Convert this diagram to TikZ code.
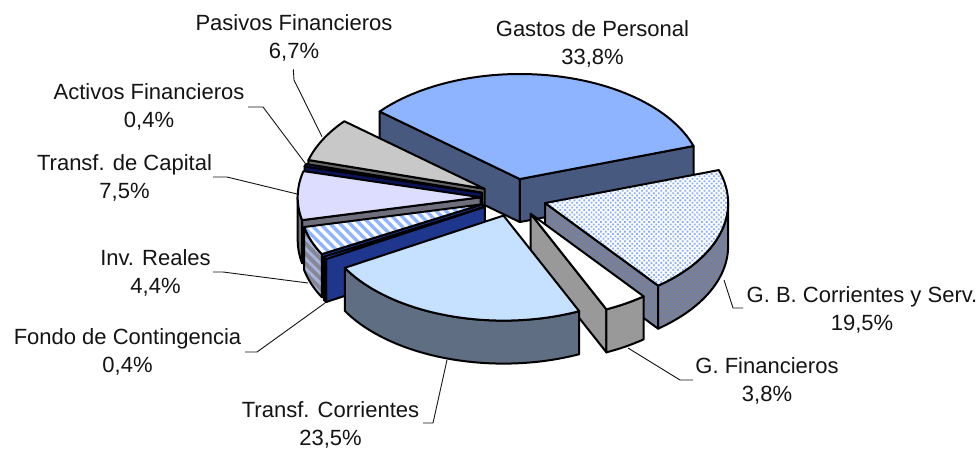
\documentclass[tikz,border=0pt]{standalone}
\usepackage{fontspec}
\setmainfont{Liberation Sans}
\usetikzlibrary{patterns,patterns.meta}

\definecolor{gpTop}{RGB}{143,180,255}
\definecolor{gpSide}{RGB}{72,89,128}
\definecolor{gbBase}{RGB}{250,252,255}
\definecolor{gbPat}{RGB}{140,175,245}
\definecolor{gbSide}{RGB}{125,128,140}
\definecolor{gbSidePat}{RGB}{105,130,195}
\definecolor{gfSide}{RGB}{153,153,153}
\definecolor{tcTop}{RGB}{197,225,255}
\definecolor{tcSide}{RGB}{95,110,130}
\definecolor{fcTop}{RGB}{40,80,220}
\definecolor{fcSide}{RGB}{30,55,140}
\definecolor{irPat}{RGB}{143,180,255}
\definecolor{irSide}{RGB}{135,135,150}
\definecolor{irSidePat}{RGB}{165,180,220}
\definecolor{tkTop}{RGB}{221,221,255}
\definecolor{tkSide}{RGB}{110,110,125}
\definecolor{afTop}{RGB}{20,40,170}
\definecolor{afSide}{RGB}{10,20,90}
\definecolor{pfTop}{RGB}{200,200,200}
\definecolor{pfSide}{RGB}{100,100,100}
\definecolor{txt}{RGB}{20,20,20}

\newcommand\pieRX{183}
\newcommand\pieRY{105}
\newcommand\pieDH{43}
% apex of an exploded slice from its start and end angle
\newcommand\pieApex[3]{%
  \pgfmathsetmacro\pieMid{(#2+#3)/2}%
  \coordinate (#1) at ({513.6+0.18*\pieRX*cos(\pieMid)},{250.4+0.18*\pieRY*sin(\pieMid)});}
% radial cut face
\newcommand\pieRadial[3]{%
  \filldraw[#3] (#1) -- ++({\pieRX*cos(#2)},{\pieRY*sin(#2)}) -- ++(0,-\pieDH)
    -- ++({-\pieRX*cos(#2)},{-\pieRY*sin(#2)}) -- cycle;}
% outer curved face
\newcommand\pieOuter[4]{%
  \filldraw[#4] ([shift={({\pieRX*cos(#2)},{\pieRY*sin(#2)})}]#1)
    arc[start angle=#2,end angle=#3,x radius=\pieRX pt,y radius=\pieRY pt]
    -- ++(0,-\pieDH)
    arc[start angle=#3,end angle=#2,x radius=\pieRX pt,y radius=\pieRY pt] -- cycle;}
% top face
\newcommand\pieTop[4]{%
  \filldraw[#4] (#1) -- ([shift={({\pieRX*cos(#2)},{\pieRY*sin(#2)})}]#1)
    arc[start angle=#2,end angle=#3,x radius=\pieRX pt,y radius=\pieRY pt] -- cycle;}

\tikzset{
  face/.style={draw=black, line width=2pt, line join=round},
  lbl/.style={font=\fontsize{22}{28}\selectfont, text=txt, align=center, inner sep=0pt, anchor=base},
  leader/.style={draw=txt, line width=0.9pt},
  gbtop/.style={face, preaction={fill=gbBase}, pattern={Dots[distance=3.4pt,radius=1.25pt,angle=45]}, pattern color=gbPat},
  gbside/.style={face, preaction={fill=gbSide}, pattern={Dots[distance=3.4pt,radius=1.1pt,angle=45]}, pattern color=gbSidePat},
  irtop/.style={face, preaction={fill=white}, pattern={Lines[angle=-45,distance=7pt,line width=3.4pt]}, pattern color=irPat},
  irside/.style={face, preaction={fill=irSide}, pattern={Lines[angle=-45,distance=7pt,line width=2.8pt]}, pattern color=irSidePat},
}

\begin{document}
\begin{tikzpicture}[x=1pt,y=1pt]
\useasboundingbox (0,0) rectangle (980,448);
\fill[white] (0,0) rectangle (980,448);

% Gastos de Personal [18.32,140]
\pieApex{gp}{18.32}{140}
\pieRadial{gp}{140}{face, fill=gpSide}
\pieRadial{gp}{18.32}{face, fill=gpSide}
\pieTop{gp}{18.32}{140}{face, fill=gpTop}

% Pasivos Financieros [140,164.12]
\pieApex{pf}{140}{164.12}
\pieRadial{pf}{164.12}{face, fill=pfSide}
\pieTop{pf}{140}{164.12}{face, fill=pfTop}

% Activos Financieros [164.12,165.56]
\pieApex{af}{164.12}{165.56}
\pieRadial{af}{165.56}{face, fill=afSide}
\pieTop{af}{164.12}{165.56}{face, fill=afTop}

% Transf. de Capital [165.56,192.56]
\pieApex{tk}{165.56}{192.56}
\pieRadial{tk}{192.56}{face, fill=tkSide}
\pieOuter{tk}{180}{192.56}{face, fill=tkSide}
\pieTop{tk}{165.56}{192.56}{face, fill=tkTop}

% Inv. Reales [192.56,208.4]
\pieApex{ir}{192.56}{208.4}
\pieRadial{ir}{208.4}{face, fill=fcSide}
\pieOuter{ir}{192.56}{208.4}{irside}
\pieTop{ir}{192.56}{208.4}{irtop}

% Fondo de Contingencia [208.4,209.84]
\pieApex{fc}{208.4}{209.84}
\pieRadial{fc}{209.84}{face, fill=fcSide}
\pieOuter{fc}{208.4}{209.84}{face, fill=fcSide}
\pieTop{fc}{208.4}{209.84}{face, fill=fcTop}

% G. B. Corrientes y Serv. [308.12,378.32]
\pieApex{gb}{308.12}{378.32}
\pieRadial{gb}{308.12}{gbside}
\pieOuter{gb}{308.12}{360}{gbside}
\pieTop{gb}{308.12}{378.32}{gbtop}

% G. Financieros [294.44,308.12]
\pieApex{gf}{294.44}{308.12}
\pieRadial{gf}{294.44}{face, fill=gfSide}
\pieOuter{gf}{294.44}{308.12}{face, fill=gfSide}
\pieTop{gf}{294.44}{308.12}{face, fill=white}

% Transf. Corrientes [209.84,294.44]
\pieApex{tc}{209.84}{294.44}
\pieOuter{tc}{209.84}{294.44}{face, fill=tcSide}
\pieTop{tc}{209.84}{294.44}{face, fill=tcTop}

% labels (base anchor = baseline of the last line)
\node[lbl] (Lgp) at (592.5,383) {Gastos de Personal\\33,8\%};
\node[lbl] (Lpf) at (294,389.7) {Pasivos Financieros\\6,7\%};
\node[lbl] (Laf) at (149,320.3) {Activos Financieros\\0,4\%};
\node[lbl] (Ltk) at (124.5,250) {Transf. de Capital\\7,5\%};
\node[lbl] (Lir) at (155.5,155) {Inv. Reales\\4,4\%};
\node[lbl] (Lfc) at (127.5,76) {Fondo de Contingencia\\0,4\%};
\node[lbl] (Ltc) at (330.5,3) {Transf. Corrientes\\23,5\%};
\node[lbl] (Lgb) at (862,118) {G. B. Corrientes y Serv.\\19,5\%};
\node[lbl] (Lgf) at (767,46.3) {G. Financieros\\3,8\%};

% leader points
\coordinate (pfA) at (293.3,378.7); \coordinate (pfB) at (294,368); \coordinate (pfC) at (322,311.3);
\coordinate (afA) at (248,341); \coordinate (afB) at (263,341); \coordinate (afC) at (305,285);
\coordinate (tkA) at (213,271); \coordinate (tkB) at (227,271); \coordinate (tkC) at (297,254);
\coordinate (irA) at (213,176); \coordinate (irB) at (223,176); \coordinate (irC) at (308,165);
\coordinate (fcA) at (245,96); \coordinate (fcB) at (257,96); \coordinate (fcC) at (325,145);
\coordinate (tcA) at (423,25); \coordinate (tcB) at (433,25); \coordinate (tcC) at (447,88);
\coordinate (gfA) at (693,68); \coordinate (gfB) at (680,68); \coordinate (gfC) at (628,100);
\coordinate (gbA) at (743,140); \coordinate (gbB) at (733,140); \coordinate (gbC) at (724,168);
\foreach \k in {pf,af,tk,ir,fc,tc,gf,gb}{
  \draw[leader] (\k A) -- (\k B) -- (\k C);
}
\end{tikzpicture}
\end{document}
